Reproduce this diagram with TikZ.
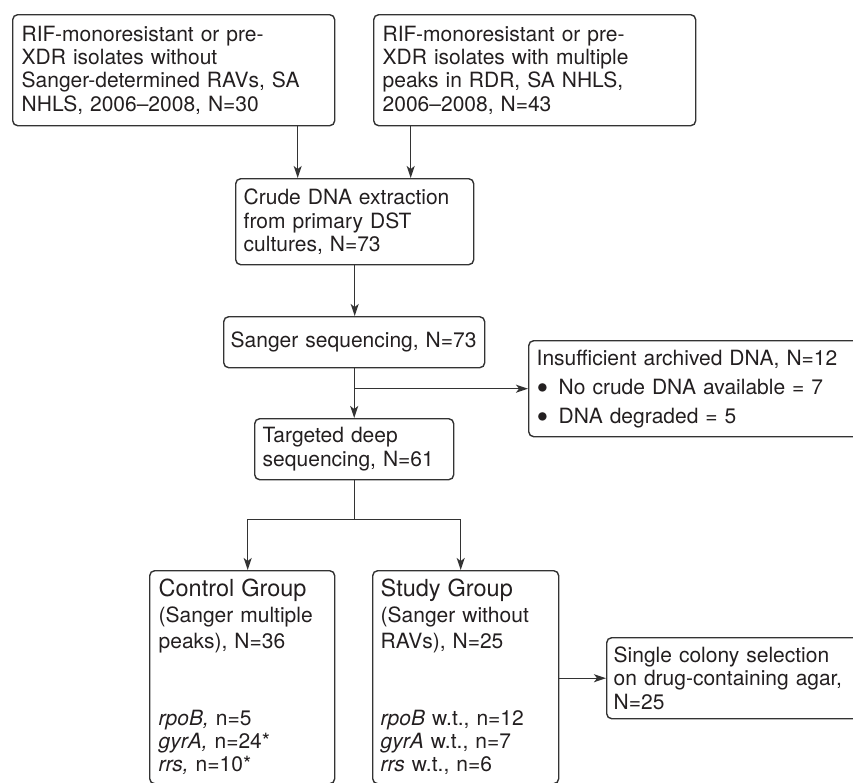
\documentclass[tikz,border=0pt]{standalone}
\usepackage{fontspec}
\usepackage{graphicx}
\setmainfont{TeX Gyre Heros}
\usetikzlibrary{arrows.meta,calc}
\definecolor{linegray}{HTML}{333333}
\definecolor{inkblack}{HTML}{231F20}
\newcommand{\bigdot}{\makebox[22pt][l]{\smash{\raisebox{-5.3pt}{\scalebox{1.6}{\textbullet}}}}}

\begin{document}
\begin{tikzpicture}[x=1pt,y=-1pt,
	box/.style={draw=linegray,line width=1.4pt,rounded corners=5pt,anchor=north west,align=left,inner xsep=9pt,inner ysep=0pt,text=inkblack,font=\fontsize{21}{23.3}\selectfont},
	arr/.style={draw=linegray,line width=1.4pt,-{Stealth[length=12pt,width=8pt,inset=3pt]}}]
	\useasboundingbox (0,0) rectangle (853,782);
	\node[box,minimum width=322pt,minimum height=111pt,text width=304pt] (srcA) at (12,14) {RIF-monoresistant or pre-\\XDR isolates without\\Sanger-determined RAVs, SA\\NHLS, 2006--2008, N=30};
	\node[box,minimum width=322pt,minimum height=111pt,text width=304pt,inner xsep=8pt] (srcB) at (373,14) {RIF-monoresistant or pre-\\XDR isolates with multiple\\peaks in RDR, SA NHLS,\\2006--2008, N=43};
	\node[box,minimum width=238pt,minimum height=86pt,text width=222pt,inner xsep=8pt] (crude) at (235,178) {Crude DNA extraction\\from primary DST\\cultures, N=73};
	\node[box,minimum width=261pt,minimum height=51pt,text width=247pt,inner xsep=7pt] (sanger) at (223,316) {Sanger sequencing, N=73};
	\node[box,minimum width=332pt,minimum height=96pt,text width=316pt,inner xsep=8pt] (insuff) at (528,340) {Insufficient archived DNA, N=12\\[5.7pt]\bigdot No crude DNA available = 7\\[5.7pt]\bigdot DNA degraded = 5};
	\node[box,minimum width=199pt,minimum height=61pt,text width=183pt,inner xsep=8pt] (deep) at (254,418) {Targeted deep\\sequencing, N=61};
	\node[box,minimum width=185pt,minimum height=213pt,text width=167pt] (control) at (149,570) {{\fontsize{23.5}{23.3}\selectfont Control Group}\\[2.7pt](Sanger multiple\\[2.7pt]peaks), N=36\\[53pt]\textit{rpoB,} n=5\\\textit{gyrA,} n=24*\\\textit{rrs,} n=10*};
	\node[box,minimum width=186pt,minimum height=213pt,text width=170pt,inner xsep=8pt] (study) at (372,570) {{\fontsize{23.5}{23.3}\selectfont Study Group}\\[2.7pt](Sanger without\\[2.7pt]RAVs), N=25\\[53pt]\textit{rpoB} w.t., n=12\\\textit{gyrA} w.t., n=7\\\textit{rrs} w.t., n=6};
	\node[box,minimum width=254pt,minimum height=81pt,text width=240pt,inner xsep=7pt] (single) at (606,637) {Single colony selection\\on drug-containing agar,\\N=25};
	\coordinate (inA) at ([xshift=-57pt]crude.north);
	\coordinate (inB) at ([xshift=56pt]crude.north);
	\coordinate (split) at ($(deep.south)+(0,39)$);
	\draw[arr] (srcA.south -| inA) -- (inA);
	\draw[arr] (srcB.south -| inB) -- (inB);
	\draw[arr] (crude.south) -- (crude.south |- sanger.north);
	\draw[arr] (sanger.south) -- (sanger.south |- deep.north);
	\draw[arr] (sanger.south |- insuff.west) -- (insuff.west);
	\draw[linegray,line width=1.4pt] (deep.south) -- (split);
	\draw[arr] (split) -| ([xshift=5.5pt]control.north);
	\draw[arr] (split) -| ([xshift=-5pt]study.north);
	\draw[arr] (study.east |- single.west) -- (single.west);
\end{tikzpicture}
\end{document}
